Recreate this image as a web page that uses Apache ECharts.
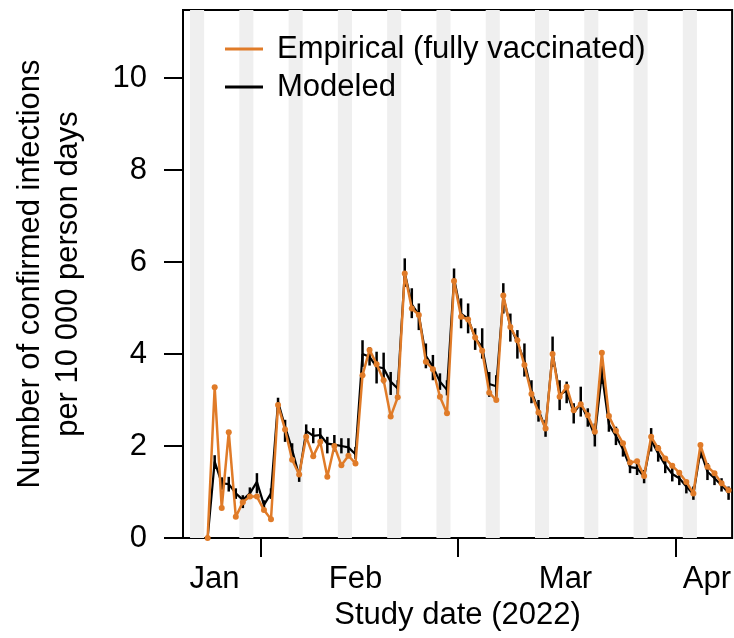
<!DOCTYPE html>
<html><head><meta charset="utf-8">
<script src="https://cdn.jsdelivr.net/npm/echarts@6/dist/echarts.min.js"></script>
<style>html,body{margin:0;padding:0;background:#fff}#c{width:734px;height:638px}</style>
</head><body><div id="c"></div>
<script>
// ---- data ----
const startDate = '2022-01-24';
const empirical = [0, 3.28, 0.65, 2.30, 0.46, 0.78, 0.90, 0.90,
  0.61, 0.41, 2.89, 2.36, 1.70, 1.38, 2.20, 1.78, 2.09, 1.33, 2.00, 1.58, 1.79, 1.62, 3.54, 4.09, 3.78, 3.43, 2.64, 3.06, 5.75, 4.99, 4.85, 3.83, 3.67, 3.07, 2.71, 5.59,
  4.81, 4.75, 4.36, 4.07, 3.16, 3.00, 5.27, 4.59, 4.30, 3.76, 3.13, 2.73, 2.38, 4.00, 3.07, 3.29, 2.78, 2.91, 2.67, 2.31, 4.03, 2.65, 2.33, 2.06, 1.64, 1.67, 1.35, 2.20, 1.95, 1.73, 1.57,
  1.42, 1.22, 0.97, 2.02, 1.55, 1.41, 1.19, 1.04];
const modeled = [0, 1.66, 1.19, 1.17, 0.97, 0.83, 0.97, 1.22,
  0.72, 0.97, 2.96, 2.42, 1.92, 1.35, 2.33, 2.22, 2.24, 2.05, 2.03, 2.00, 1.97, 1.82, 4.00, 3.94, 3.72, 3.69, 3.40, 3.25, 5.77, 5.08, 4.85, 3.96, 3.72, 3.40, 3.22, 5.65,
  4.88, 4.77, 4.35, 4.15, 3.35, 3.30, 5.25, 4.60, 4.25, 3.85, 3.18, 2.78, 2.38, 4.03, 3.12, 3.20, 2.72, 2.92, 2.60, 2.22, 3.58, 2.47, 2.22, 1.93, 1.54, 1.52, 1.33, 2.13, 1.84, 1.59, 1.39,
  1.30, 1.12, 0.95, 1.90, 1.44, 1.30, 1.15, 0.98];
const modeledLow = [0, 1.50, 1.05, 1.01, 0.85, 0.65, 0.85, 0.97,
  0.62, 0.85, 2.80, 2.09, 1.77, 1.22, 2.17, 2.06, 2.10, 1.84, 1.88, 1.84, 1.80, 1.72, 3.72, 3.75, 3.36, 3.36, 3.11, 3.12, 5.46, 4.78, 4.52, 3.69, 3.43, 3.22, 3.10, 5.43,
  4.56, 4.45, 4.09, 3.90, 3.07, 3.07, 4.88, 4.27, 3.90, 3.51, 2.93, 2.53, 2.20, 3.72, 2.78, 2.93, 2.49, 2.64, 2.42, 1.99, 3.35, 2.31, 2.02, 1.77, 1.41, 1.37, 1.19, 1.88, 1.66, 1.41, 1.23,
  1.15, 0.97, 0.83, 1.73, 1.26, 1.15, 1.01, 0.83];
const modeledHigh = [0, 1.80, 1.32, 1.33, 1.08, 0.93, 1.10, 1.41,
  0.82, 1.08, 3.05, 2.57, 2.06, 1.45, 2.47, 2.39, 2.39, 2.20, 2.24, 2.17, 2.17, 1.98, 4.30, 4.15, 4.05, 4.03, 3.61, 3.43, 6.08, 5.43, 5.10, 4.23, 3.98, 3.58, 3.43, 5.86,
  5.21, 5.10, 4.56, 4.56, 3.61, 3.54, 5.54, 4.88, 4.52, 4.23, 3.43, 3.00, 2.57, 4.38, 3.43, 3.40, 2.93, 3.29, 2.82, 2.49, 3.80, 2.64, 2.42, 2.09, 1.66, 1.66, 1.48, 2.39, 2.02, 1.77, 1.55,
  1.44, 1.26, 1.12, 2.06, 1.63, 1.44, 1.30, 1.12];
const weekendStarts = ['2022-01-22','2022-01-29','2022-02-05','2022-02-12','2022-02-19','2022-02-26','2022-03-05','2022-03-12','2022-03-19','2022-03-26','2022-04-02'];
const monthTickDates = ['2022-02-01','2022-03-01','2022-04-01'];
const monthLabels = ['Jan','Feb','Mar','Apr'];
const monthLabelDates = ['2022-01-25T11:00','2022-02-14T12:00','2022-03-16T08:00','2022-04-05T10:00'];
const axisStart = '2022-01-21', axisEnd = '2022-04-09';
const yTicks = [0, 2, 4, 6, 8, 10];
const yMax = 11.48;
const seriesNames = ['Empirical (fully vaccinated)', 'Modeled'];

// ---- helpers ----
const ref = Date.UTC(2022, 1, 1);
function off(s) { const t = Date.parse(s.length === 10 ? s + 'T00:00Z' : s + 'Z'); return (t - ref) / 86400000; }
const x0 = off(startDate);
const xs = empirical.map((_, i) => x0 + i + 0.5);
const tickVals = monthTickDates.map(off);
const labelVals = monthLabelDates.map(off);

const FONT = '"Liberation Sans", Arial, Helvetica, sans-serif';
const ORANGE = '#E07B28';
const FS = 31;

const chart = echarts.init(document.getElementById('c'), null, {renderer: 'canvas'});
chart.setOption({
  animation: false,
  textStyle: {fontFamily: FONT},
  grid: {left: 183, right: 1, top: 10, bottom: 100, show: true, borderColor: '#000', borderWidth: 2, backgroundColor: 'transparent'},
  legend: {
    data: seriesNames, orient: 'vertical', left: 220, top: 27,
    icon: 'rect', itemWidth: 38, itemHeight: 3, itemGap: 4,
    textStyle: {fontSize: FS, color: '#000', fontFamily: FONT, lineHeight: 34, padding: [0, 0, 0, 9]}
  },
  xAxis: {
    type: 'value', min: off(axisStart), max: off(axisEnd),
    axisLine: {show: false, onZero: false},
    axisTick: {show: true, inside: false, length: 19, lineStyle: {color: '#000', width: 2}, customValues: tickVals},
    axisLabel: {show: true, customValues: labelVals, margin: 26, fontSize: FS, color: '#000', fontFamily: FONT,
      formatter: v => { let k = 0, best = 1e9; labelVals.forEach((lv, i) => { if (Math.abs(lv - v) < best) { best = Math.abs(lv - v); k = i; } }); return monthLabels[k]; }},
    splitLine: {show: false},
    name: 'Study date (2022)', nameLocation: 'middle', nameGap: 55,
    nameTextStyle: {fontSize: FS, color: '#000', fontFamily: FONT}
  },
  yAxis: {
    type: 'value', min: 0, max: yMax,
    axisLine: {show: false, onZero: false},
    axisTick: {show: true, inside: false, length: 19, lineStyle: {color: '#000', width: 2}, customValues: yTicks},
    axisLabel: {show: true, customValues: yTicks, margin: 36, fontSize: FS, color: '#000', fontFamily: FONT},
    splitLine: {show: false},
    name: 'Number of confirmed infections\nper 10 000 person days', nameLocation: 'middle', nameGap: 96, nameRotate: 90,
    nameTextStyle: {fontSize: FS, color: '#000', fontFamily: FONT, lineHeight: 38, align: 'center'}
  },
  series: [
    {
      type: 'custom', name: 'weekends', z: 1, silent: true,
      data: weekendStarts.map(s => [off(s)]),
      renderItem: (params, api) => {
        const s = api.value(0);
        const p1 = api.coord([s, yMax]);
        const p2 = api.coord([s + 2, 0]);
        return {type: 'rect', shape: {x: p1[0], y: p1[1], width: p2[0] - p1[0], height: p2[1] - p1[1]}, style: {fill: '#EFEFEF'}};
      }
    },
    {
      type: 'custom', name: 'errbars', z: 2, silent: true,
      data: xs.map((x, i) => [x, modeledLow[i], modeledHigh[i]]),
      renderItem: (params, api) => {
        const x = api.value(0);
        const a = api.coord([x, api.value(1)]);
        const b = api.coord([x, api.value(2)]);
        return {type: 'line', shape: {x1: a[0], y1: a[1], x2: b[0], y2: b[1]}, style: {stroke: '#000', lineWidth: 2.5}};
      }
    },
    {
      type: 'line', name: seriesNames[1], z: 3,
      data: xs.map((x, i) => [x, modeled[i]]),
      showSymbol: false, symbol: 'none',
      lineStyle: {color: '#000', width: 2.2}, itemStyle: {color: '#000'}
    },
    {
      type: 'line', name: seriesNames[0], z: 4,
      data: xs.map((x, i) => [x, empirical[i]]),
      symbol: 'circle', symbolSize: 6, showSymbol: true,
      lineStyle: {color: ORANGE, width: 2.5}, itemStyle: {color: ORANGE}
    }
  ]
});
</script></body></html>
